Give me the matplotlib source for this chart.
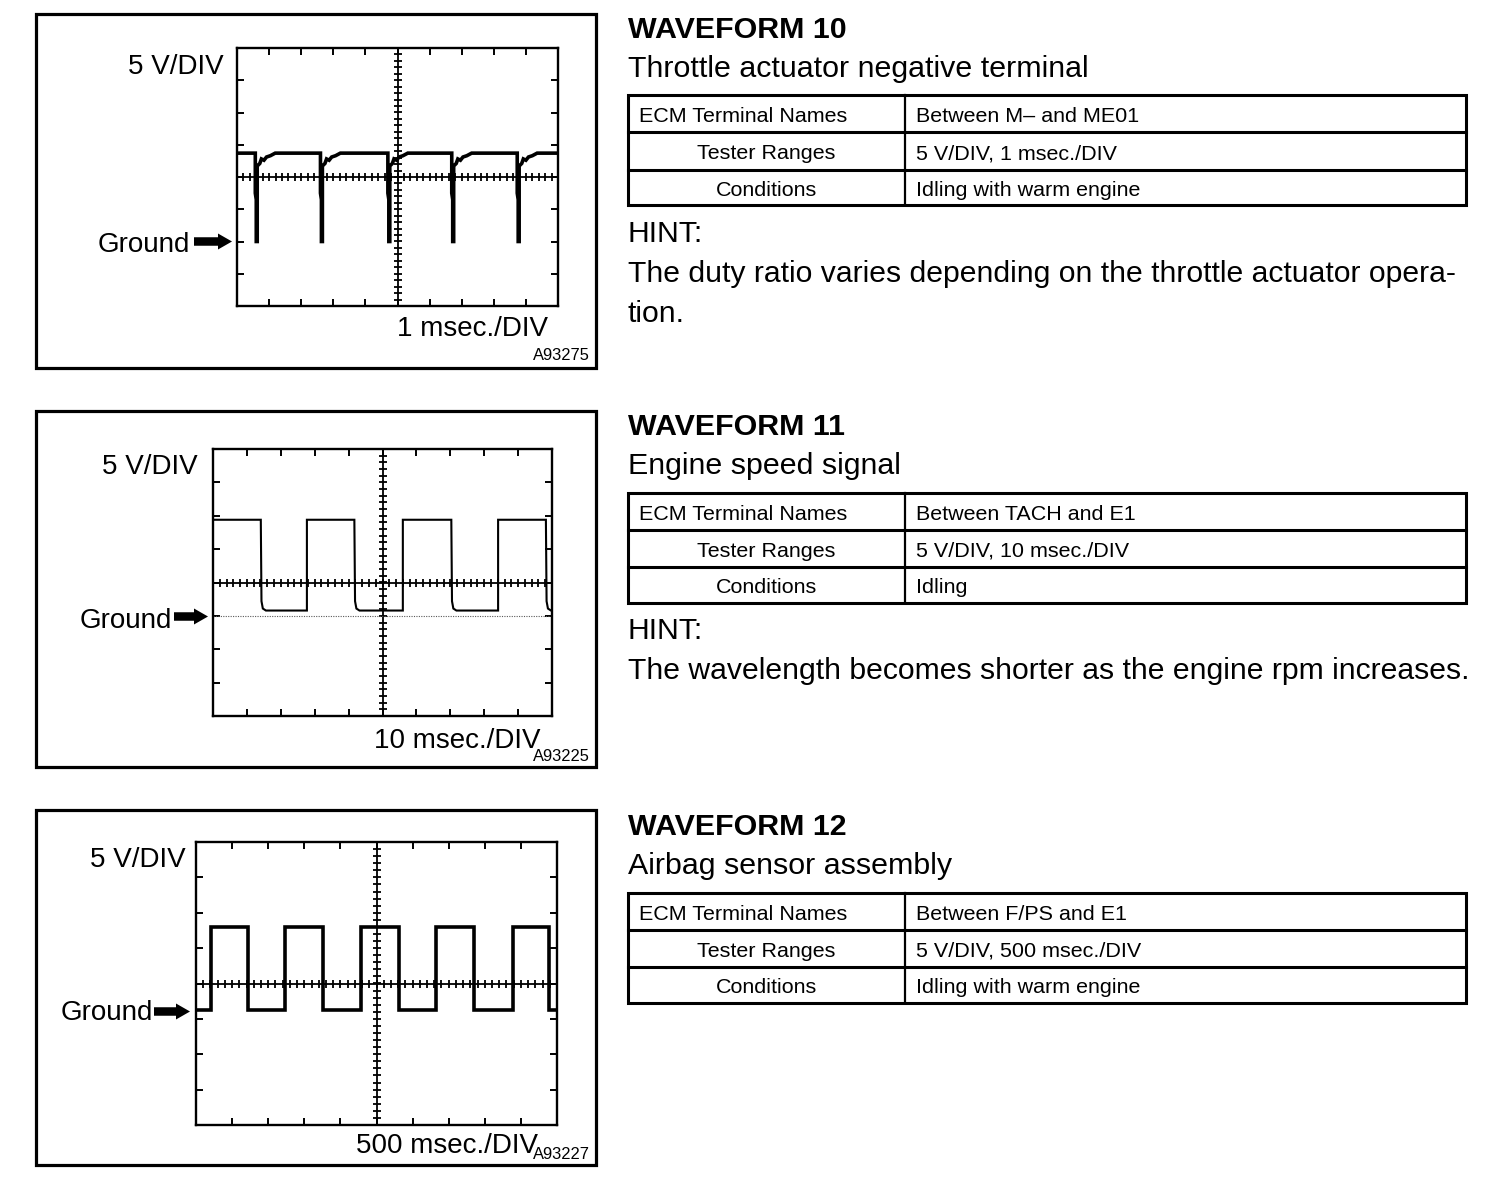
import numpy as np
import matplotlib
matplotlib.use('Agg')
import matplotlib.pyplot as plt
from matplotlib.patches import Rectangle, FancyArrow

plt.rcParams['font.family'] = ['Liberation Sans', 'DejaVu Sans']

# ---------------- data ----------------
# Waveform 10 : throttle actuator negative terminal, 5 V/DIV, 1 ms/DIV
wf10_spike_ms = [0.59, 2.62, 4.72, 6.71, 8.75]
wf10_high_v = 13.7
wf10_shape_dt = [-0.02, -0.02, 0.01, 0.01, 0.04, 0.04, 0.12, 0.17, 0.25, 0.33, 0.45, 0.60]
wf10_shape_v = [13.7, 7.5, 6.5, 0.0, 0.0, 11.7, 12.1, 12.8, 12.6, 13.1, 13.3, 13.7]

# Waveform 11 : engine speed signal, 5 V/DIV, 10 ms/DIV (edges: fall, rise, ...)
wf11_edges_ms = [14.1, 27.7, 41.7, 56.0, 70.3, 84.1, 98.2]
wf11_high_v = 14.4
wf11_low_v = 0.8
wf11_fall_dt = [0.0, 0.2, 0.6, 1.5]
wf11_fall_v = [14.4, 2.2, 1.1, 0.8]

# Waveform 12 : airbag sensor assembly, 5 V/DIV, 500 ms/DIV (edges: rise, fall, ...)
wf12_edges_ms = [210, 720, 1235, 1760, 2280, 2805, 3325, 3845, 4385, 4890]
wf12_high_v = 11.7
wf12_low_v = 0.0

titles = ["WAVEFORM 10", "WAVEFORM 11", "WAVEFORM 12"]
subtitles = ["Throttle actuator negative terminal", "Engine speed signal",
             "Airbag sensor assembly"]
row_labels = ["ECM Terminal Names", "Tester Ranges", "Conditions"]
row_values = [
    ["Between M\u2013 and ME01", "5 V/DIV, 1 msec./DIV", "Idling with warm engine"],
    ["Between TACH and E1", "5 V/DIV, 10 msec./DIV", "Idling"],
    ["Between F/PS and E1", "5 V/DIV, 500 msec./DIV", "Idling with warm engine"],
]
hints = [
    ["The duty ratio varies depending on the throttle actuator opera-", "tion."],
    ["The wavelength becomes shorter as the engine rpm increases."],
    None,
]
time_labels = ["1 msec./DIV", "10 msec./DIV", "500 msec./DIV"]
fig_ids = ["A93275", "A93225", "A93227"]

# ---------------- figure ----------------
W, H = 1504, 1190
fig = plt.figure(figsize=(W / 100, H / 100), dpi=100)
ax0 = fig.add_axes([0, 0, 1, 1])
ax0.set_xlim(0, W)
ax0.set_ylim(H, 0)
ax0.axis('off')


def txt(x, yb, s, px, ha='left', weight='normal'):
    ax0.text(x, yb, s, fontsize=px * 0.72, ha=ha, va='baseline',
             fontweight=weight, color='black')


# build traces
t10, v10 = [0.0], [wf10_high_v]
for ts in wf10_spike_ms:
    for dt, v in zip(wf10_shape_dt, wf10_shape_v):
        t10.append(ts + dt)
        v10.append(v)
t10.append(10.0)
v10.append(wf10_high_v)

t11, v11 = [0.0], [wf11_high_v]
for i, te in enumerate(wf11_edges_ms):
    if i % 2 == 0:  # falling edge
        for dt, v in zip(wf11_fall_dt, wf11_fall_v):
            t11.append(te + dt)
            v11.append(v)
    else:
        t11 += [te, te]
        v11 += [wf11_low_v, wf11_high_v]
t11.append(100.0)
v11.append(wf11_low_v)

t12, v12 = [0.0], [wf12_low_v]
level = wf12_low_v
for i, te in enumerate(wf12_edges_ms):
    new = wf12_high_v if i % 2 == 0 else wf12_low_v
    t12 += [te, te]
    v12 += [level, new]
    level = new
t12.append(5000.0)
v12.append(level)

panels = [
    dict(outer=(36, 14, 596, 368), inner=(237, 48, 558, 306), t=t10, v=v10,
         tdiv=1.0, gdiv=-2.0, lw=2.6, dotted=False,
         vdiv_lbl=(224, 74), gnd=(190, 252, 194, 232, 241.5),
         tlbl=(548, 336), idl=(590, 360)),
    dict(outer=(36, 411, 596, 767), inner=(213, 449, 552, 716), t=t11, v=v11,
         tdiv=10.0, gdiv=-1.0, lw=1.5, dotted=True,
         vdiv_lbl=(198, 474), gnd=(172, 628, 174, 208, 616.5),
         tlbl=(541, 747.5), idl=(590, 761)),
    dict(outer=(36, 810, 596, 1165), inner=(196, 842, 557, 1125), t=t12, v=v12,
         tdiv=500.0, gdiv=-0.75, lw=2.6, dotted=False,
         vdiv_lbl=(186, 867), gnd=(153, 1020, 154, 190, 1011.5),
         tlbl=(538, 1153), idl=(590, 1159)),
]

for k, p in enumerate(panels):
    ox0, oy0, ox1, oy1 = p['outer']
    ax0.add_patch(Rectangle((ox0, oy0), ox1 - ox0, oy1 - oy0, fill=False,
                            lw=2.3, ec='black'))
    x0, y0, x1, y1 = p['inner']
    ax = fig.add_axes([x0 / W, 1 - y1 / H, (x1 - x0) / W, (y1 - y0) / H])
    g = p['gdiv']
    tdiv = p['tdiv']
    center = -g * 5
    ax.set_xlim(0, 10 * tdiv)
    ax.set_ylim((-4 - g) * 5, (4 - g) * 5)
    ax.set_xticks(np.arange(0, 11) * tdiv)
    ax.set_yticks(center + np.arange(-4, 5) * 5)
    ax.tick_params(direction='in', length=5, width=1.4, top=True, right=True,
                   labelbottom=False, labelleft=False)
    for sp in ax.spines.values():
        sp.set_linewidth(1.7)
    # graticule centre lines with sub-division marks
    ax.axhline(center, color='black', lw=1.3)
    ax.axvline(5 * tdiv, color='black', lw=1.3)
    xs = np.arange(0, 10.001, 0.2) * tdiv
    ax.plot(xs, np.full(len(xs), center), ls='none', marker='|', ms=6,
            mew=1.3, color='black')
    ys = center + np.arange(-4, 4.001, 0.2) * 5
    ax.plot(np.full(len(ys), 5 * tdiv), ys, ls='none', marker='_', ms=6,
            mew=1.3, color='black')
    if p['dotted']:
        ax.axhline(0, color='0.35', lw=0.8, ls=(0, (1, 1.2)))
    ax.plot(p['t'], p['v'], color='black', lw=p['lw'], solid_joinstyle='miter')

    # labels
    txt(p['vdiv_lbl'][0], p['vdiv_lbl'][1], "5 V/DIV", 27.8, ha='right')
    gx, gyb, ax_s, ax_e, ay = p['gnd']
    txt(gx, gyb, "Ground", 27.8, ha='right')
    ax0.add_patch(FancyArrow(ax_s, ay, ax_e - ax_s, 0, width=8.5, head_width=16,
                             head_length=14, length_includes_head=True,
                             color='black', lw=0))
    txt(p['tlbl'][0], p['tlbl'][1], time_labels[k], 27.8, ha='right')
    txt(p['idl'][0], p['idl'][1], fig_ids[k], 16.5, ha='right')

# ---------------- right-hand text blocks ----------------
block_offsets = [0, 397.5, 797.5]
for k, off in enumerate(block_offsets):
    txt(628, 37.5 + off, titles[k], 30.4, weight='bold')
    txt(628, 77 + off, subtitles[k], 30.4)
    ty0 = 95 + off
    rows_y = [ty0, ty0 + 37, ty0 + 74.5, ty0 + 110]
    # table lines
    ax0.add_patch(Rectangle((628, rows_y[0]), 1466 - 628, rows_y[3] - rows_y[0],
                            fill=False, lw=2.2, ec='black'))
    for ry in rows_y[1:3]:
        ax0.plot([628, 1466], [ry, ry], color='black', lw=2.2)
    ax0.plot([905, 905], [rows_y[0], rows_y[3]], color='black', lw=1.6)
    for r in range(3):
        yc = (rows_y[r] + rows_y[r + 1]) / 2 + 1
        yb = yc + 0.358 * 21.5
        if r == 0:
            txt(639, yb, row_labels[r], 21.5)
        else:
            txt(766.5, yb, row_labels[r], 21.5, ha='center')
        txt(916, yb, row_values[k][r], 21.5)
    if hints[k]:
        txt(628, 241.7 + off, "HINT:", 30.1)
        for j, line in enumerate(hints[k]):
            txt(628, 281.7 + off + 40 * j, line, 30.1)

fig.savefig('out.png', dpi=100, facecolor='white')
